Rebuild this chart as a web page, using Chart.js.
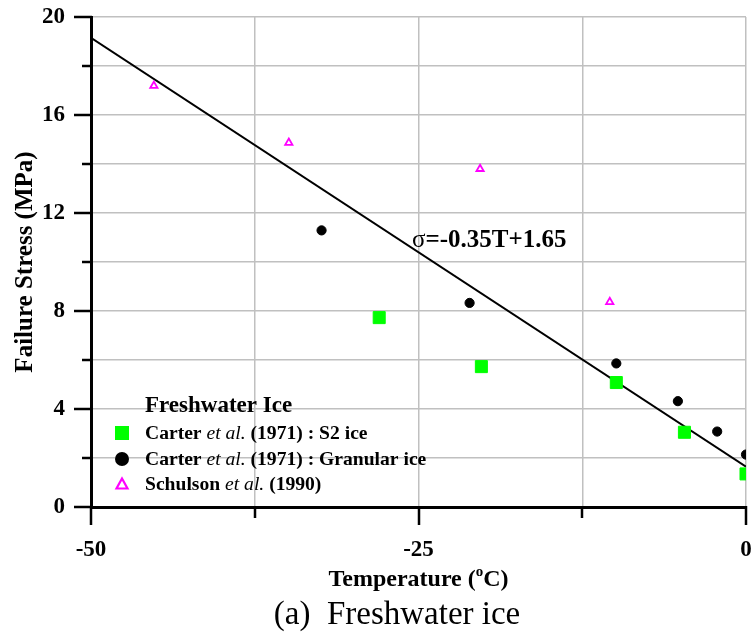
<!DOCTYPE html>
<html><head><meta charset="utf-8">
<script src="https://cdn.jsdelivr.net/npm/chart.js@4.4.1/dist/chart.umd.min.js"></script>
<style>html,body{margin:0;padding:0;background:#fff;} #wrap{width:751px;height:635px;position:relative;}</style>
</head><body><div id="wrap"><canvas id="c" width="751" height="635"></canvas></div>
<script>
// Data
const s2Temp = [-28.0, -20.2, -9.9, -4.7, 0.0];
const s2Stress = [7.73, 5.73, 5.08, 3.05, 1.35];
const granTemp = [-32.4, -21.1, -9.9, -5.2, -2.2, 0.0];
const granStress = [11.29, 8.33, 5.86, 4.32, 3.08, 2.14];
const schTemp = [-45.2, -34.9, -20.3, -10.4];
const schStress = [17.19, 14.87, 13.80, 8.37];
const fitTemp = [-50, 0];
const fitStress = [19.15, 1.65];
const xTickLabels = [-50, -25, 0];
const yTickLabels = [0, 4, 8, 12, 16, 20];
const seriesNames = ['Carter et al. (1971) : S2 ice', 'Carter et al. (1971) : Granular ice', 'Schulson et al. (1990)', 'Fit'];
const legendTitle = 'Freshwater Ice';
const fitLabel = 'σ=-0.35T+1.65';
const yTitle = 'Failure Stress (MPa)';
const caption = '(a)  Freshwater ice';

const SERIF = '"Liberation Serif", "Times New Roman", serif';
const pts = (xs, ys) => xs.map((x, i) => ({x, y: ys[i]}));
const GREEN = '#00ff00', MAG = '#ff00ff';

const overlay = {
  id: 'overlay',
  afterDraw(chart) {
    const ctx = chart.ctx;
    const xs = chart.scales.x, ys = chart.scales.y;
    const area = chart.chartArea;
    ctx.save();
    // tick marks
    ctx.strokeStyle = '#000';
    ctx.lineWidth = 2.5;
    for (let v = 0; v <= 20; v += 2) {
      const p = Math.round(ys.getPixelForValue(v));
      const len = yTickLabels.includes(v) ? 17 : 9;
      ctx.beginPath(); ctx.moveTo(area.left - len, p); ctx.lineTo(area.left + 1, p); ctx.stroke();
    }
    for (let v = -50; v <= 0; v += 12.5) {
      const p = Math.round(xs.getPixelForValue(v));
      const len = xTickLabels.includes(v) ? 18 : 11;
      ctx.beginPath(); ctx.moveTo(p, area.bottom - 1); ctx.lineTo(p, area.bottom + len); ctx.stroke();
    }
    // fit annotation
    ctx.fillStyle = '#000';
    ctx.textBaseline = 'alphabetic';
    ctx.textAlign = 'left';
    let ax = xs.getPixelForValue(-25.5), ay = ys.getPixelForValue(10.63);
    ctx.font = '25px ' + SERIF;
    ctx.fillText(fitLabel[0], ax, ay);
    ax += ctx.measureText(fitLabel[0]).width;
    ctx.font = 'bold 25px ' + SERIF;
    ctx.fillText(fitLabel.slice(1), ax, ay);

    // x title with superscript
    const cx = (area.left + area.right) / 2;
    const parts = [['Temperature (', 'bold 24px '], ['o', 'bold 15px '], ['C)', 'bold 24px ']];
    let total = 0;
    parts.forEach(p => { ctx.font = p[1] + SERIF; total += ctx.measureText(p[0]).width; });
    let tx = cx - total / 2;
    const tb = 586;
    parts.forEach(p => {
      ctx.font = p[1] + SERIF;
      ctx.fillText(p[0], tx, p[0] === 'o' ? tb - 10 : tb);
      tx += ctx.measureText(p[0]).width;
    });
    // caption
    ctx.font = '33px ' + SERIF;
    ctx.textAlign = 'center';
    ctx.fillText(caption, 397, 624);

    // legend
    ctx.textAlign = 'left';
    ctx.font = 'bold 23px ' + SERIF;
    ctx.fillText(legendTitle, 145, 412);
    const rows = [
      [['Carter ', 'bold'], ['et al.', 'italic bold'], [' (1971) : S2 ice', 'bold']],
      [['Carter ', 'bold'], ['et al.', 'italic bold'], [' (1971) : Granular ice', 'bold']],
      [['Schulson ', 'bold'], ['et al.', 'italic bold'], [' (1990)', 'bold']]
    ];
    const baselines = [439, 465, 490];
    rows.forEach((r, i) => {
      let x = 145;
      r.forEach(seg => {
        ctx.font = (seg[1] === 'italic bold' ? 'italic ' : 'bold ') + '19.6px ' + SERIF;
        ctx.fillText(seg[0], x, baselines[i]);
        x += ctx.measureText(seg[0]).width;
      });
    });
    // legend markers
    ctx.fillStyle = GREEN;
    ctx.fillRect(115, 426, 14, 14);
    ctx.fillStyle = '#000';
    ctx.beginPath(); ctx.arc(122, 459, 7, 0, Math.PI * 2); ctx.fill();
    ctx.strokeStyle = MAG; ctx.lineWidth = 2.2;
    ctx.beginPath(); ctx.moveTo(122, 478.5); ctx.lineTo(127.5, 488.5); ctx.lineTo(116.5, 488.5); ctx.closePath(); ctx.stroke();
    ctx.restore();
  }
};

new Chart(document.getElementById('c'), {
  type: 'scatter',
  data: {
    datasets: [
      { label: seriesNames[3], type: 'line', data: pts(fitTemp, fitStress), borderColor: '#000', borderWidth: 2,
        pointRadius: 0, fill: false, tension: 0, order: 4 },
      { label: seriesNames[0], data: pts(s2Temp, s2Stress), pointStyle: 'rect', pointRadius: 8.5,
        backgroundColor: GREEN, borderColor: GREEN, borderWidth: 1, order: 1 },
      { label: seriesNames[1], data: pts(granTemp, granStress), pointStyle: 'circle', pointRadius: 4.6,
        backgroundColor: '#000', borderColor: '#000', borderWidth: 1, order: 2 },
      { label: seriesNames[2], data: pts(schTemp, schStress), pointStyle: 'triangle', pointRadius: 4.2,
        backgroundColor: 'rgba(255,255,255,0)', borderColor: MAG, borderWidth: 1.8, order: 3 }
    ]
  },
  options: {
    responsive: false, animation: false, devicePixelRatio: 1,
    layout: { autoPadding: false, padding: { top: 17, right: 5, left: 0, bottom: 0 } },
    plugins: { legend: { display: false }, tooltip: { enabled: false } },
    scales: {
      x: {
        type: 'linear', min: -50, max: 0, position: 'bottom',
        afterFit: s => { s.height = 128; s.paddingLeft = 0; s.paddingRight = 0; s.paddingTop = 0; s.paddingBottom = 0; },
        afterBuildTicks: s => { s.ticks = [-50, -37.5, -25, -12.5, 0].map(v => ({value: v})); },
        ticks: { autoSkip: false, maxRotation: 0, padding: 29, color: '#000',
          font: { family: SERIF, size: 23, weight: 'bold' },
          callback: v => xTickLabels.includes(v) ? String(v) : '' },
        grid: { color: '#c0c0c0', lineWidth: 1.5, drawTicks: false },
        border: { display: true, color: '#000', width: 3 }
      },
      y: {
        type: 'linear', min: 0, max: 20,
        afterFit: s => { s.width = 91; s.paddingLeft = 0; s.paddingRight = 0; s.paddingTop = 0; s.paddingBottom = 0; },
        afterBuildTicks: s => { const t = []; for (let v = 0; v <= 20; v += 2) t.push({value: v}); s.ticks = t; },
        ticks: { autoSkip: false, padding: 26, color: '#000',
          font: { family: SERIF, size: 23, weight: 'bold' },
          callback: v => yTickLabels.includes(v) ? String(v) : '' },
        grid: { color: '#c0c0c0', lineWidth: 1.5, drawTicks: false },
        border: { display: true, color: '#000', width: 3 },
        title: { display: true, text: yTitle, color: '#000', padding: { top: 11, bottom: 0 },
          font: { family: SERIF, size: 25, weight: 'bold' } }
      }
    }
  },
  plugins: [overlay]
});
</script>
</body></html>
